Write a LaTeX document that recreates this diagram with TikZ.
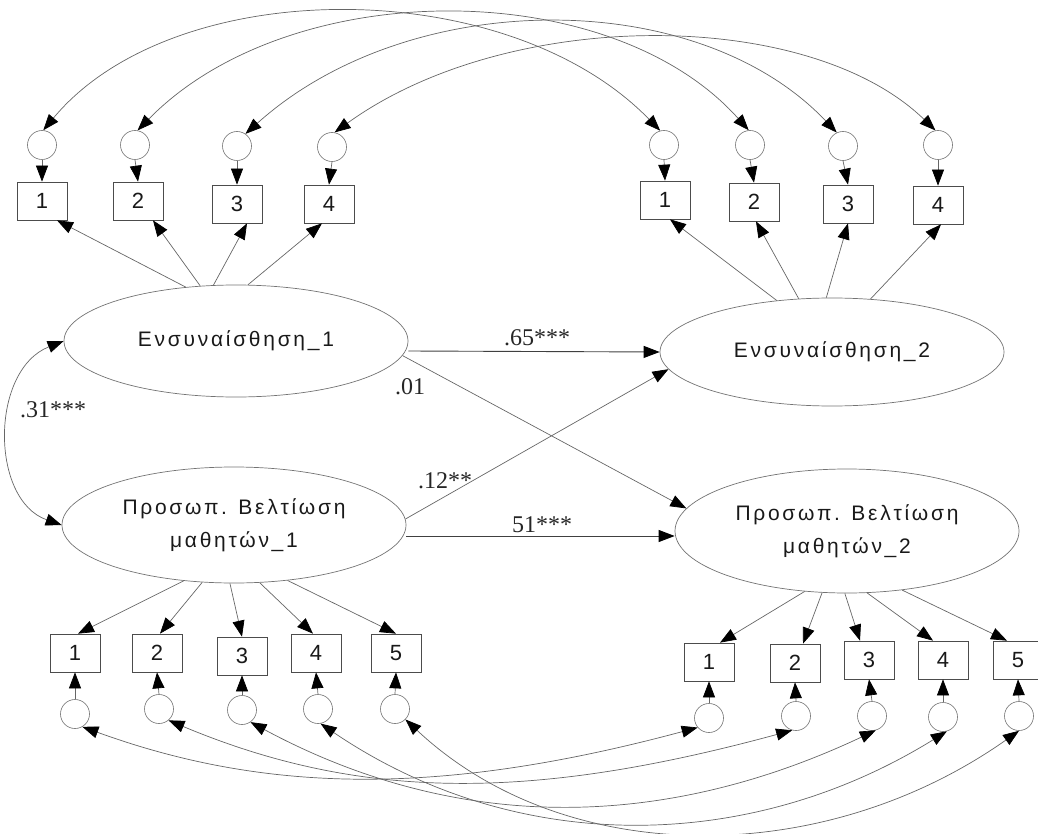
\documentclass[tikz,border=0pt]{standalone}
\usepackage{fontspec}
\setmainfont{Liberation Serif}
\newfontfamily\grk[LetterSpace=13]{Liberation Sans}
\newfontfamily\dig{Liberation Sans}
\usetikzlibrary{arrows.meta,shapes.geometric}
\begin{document}
\begin{tikzpicture}[x=1pt,y=-1pt,
  lat/.style={ellipse, draw=black!55, line width=0.7pt, minimum width=344pt, inner sep=0pt,
    font=\grk\fontsize{21}{33}\selectfont, text=black!90, align=center},
  obs/.style={rectangle, draw=black!70, line width=0.7pt, minimum width=50pt, minimum height=38pt,
    inner sep=0pt, font=\dig\fontsize{22}{24}\selectfont, text=black!90},
  err/.style={circle, draw=black!55, line width=0.6pt, minimum size=29pt, inner sep=0pt},
  coef/.style={font=\fontsize{24}{26}\selectfont, text=black!85, inner sep=0pt},
  tip/.style={-{Triangle[length=16pt,width=12pt,color=black]}},
  arr/.style={draw=black!60, line width=0.7pt, tip},
  harr/.style={draw=black!75, line width=0.9pt, tip},
  dbl/.style={draw=black!60, line width=0.7pt,
    {Triangle[length=16pt,width=12pt,color=black]}-{Triangle[length=16pt,width=12pt,color=black]}}
]
\useasboundingbox (0,0) rectangle (1038,834);

% latent variables
\node[lat, minimum height=112pt] (E1) at (236,341) {Ενσυναίσθηση\_1};
\node[lat, minimum height=108pt] (E2) at (832,352) {Ενσυναίσθηση\_2};
\node[lat, minimum height=116pt] (P1) at (234,525) {Προσωπ. Βελτίωση\\μαθητών\_1};
\node[lat, minimum height=124pt] (P2) at (847,531) {Προσωπ. Βελτίωση\\μαθητών\_2};

% top-left indicators
\node[err] (tl1) at (42,145) {};
\node[err] (tl2) at (135,145) {};
\node[err] (tl3) at (237,146) {};
\node[err] (tl4) at (332,147) {};
\node[obs] (a1) at (42,201) {1};
\node[obs] (a2) at (138,201) {2};
\node[obs] (a3) at (237,204) {3};
\node[obs] (a4) at (329,204) {4};

% top-right indicators
\node[err] (tr1) at (664,145) {};
\node[err] (tr2) at (750,145) {};
\node[err] (tr3) at (843,146) {};
\node[err] (tr4) at (938,145) {};
\node[obs] (b1) at (665,200) {1};
\node[obs] (b2) at (754,202) {2};
\node[obs] (b3) at (848,204) {3};
\node[obs] (b4) at (938,205) {4};

% bottom-left indicators
\node[obs] (c1) at (75,653) {1};
\node[obs] (c2) at (157,653) {2};
\node[obs] (c3) at (242,656) {3};
\node[obs] (c4) at (316,653) {4};
\node[obs] (c5) at (396,653) {5};
\node[err] (bl1) at (75,714) {};
\node[err] (bl2) at (159,709) {};
\node[err] (bl3) at (242,710) {};
\node[err] (bl4) at (318,709) {};
\node[err] (bl5) at (395,709) {};

% bottom-right indicators
\node[obs] (d1) at (709,662) {1};
\node[obs] (d2) at (795,663) {2};
\node[obs] (d3) at (869,660) {3};
\node[obs] (d4) at (943,660) {4};
\node[obs] (d5) at (1018,660) {5};
\node[err] (br1) at (709,718) {};
\node[err] (br2) at (796,716) {};
\node[err] (br3) at (872,716) {};
\node[err] (br4) at (943,717) {};
\node[err] (br5) at (1019,716) {};

% coefficient labels
\node[coef] (l65) at (537,338) {.65***};
\node[coef] (l01) at (410,387) {.01};
\node[coef] (l31) at (53,410) {.31***};
\node[coef] (l12) at (445,481) {.12**};
\node[coef] (l51) at (542,525) {51***};

% loadings
\draw[arr] (E1.133.6) -- ([xshift=15pt]a1.south);
\draw[arr] (E1.123.4) -- ([xshift=15pt]a2.south);
\draw[arr] (E1.112.5) -- ([xshift=10pt]a3.south);
\draw[arr] (E1.78.9) -- ([xshift=-7pt]a4.south);

\draw[arr] (E2.137.6) -- ([xshift=5pt]b1.south);
\draw[arr] (E2.122.7) -- ([xshift=2pt]b2.south);
\draw[arr] (E2.96.3) -- (b3.south);
\draw[arr] (E2.54.9) -- ([xshift=3pt]b4.south);

\draw[arr] (P1.228.6) -- ([xshift=3pt]c1.north);
\draw[arr] (P1.241.5) -- ([xshift=3pt]c2.north);
\draw[arr] (P1.266) -- (c3.north);
\draw[arr] (P1.294.4) -- ([xshift=-3pt]c4.north);
\draw[arr] (P1.314.4) -- (c5.north);

\draw[arr] (P2.235) -- ([xshift=11pt]d1.north);
\draw[arr] (P2.248.7) -- ([xshift=8pt]d2.north);
\draw[arr] (P2.268.2) -- ([xshift=-9pt]d3.north);
\draw[arr] (P2.288.9) -- ([xshift=-10pt]d4.north);
\draw[arr] (P2.313.1) -- ([xshift=-11pt]d5.north);

% error terms to indicators
\foreach \e/\o in {tl1/a1,tl2/a2,tl3/a3,tl4/a4,tr1/b1,tr2/b2,tr3/b3,tr4/b4}
  \draw[arr] (\e.south) -- (\o.north);
\foreach \e/\o in {bl1/c1,bl2/c2,bl3/c3,bl4/c4,bl5/c5,br1/d1,br2/d2,br3/d3,br4/d4,br5/d5}
  \draw[arr] (\e.north) -- (\o.south);

% structural paths
\draw[harr] ([yshift=-10pt]E1.east) -- (E2.west);
\draw[arr] (E1.-5) -- (P2.172);
\draw[arr] (P1.2) -- (E2.186);
\draw[harr] ([yshift=-11pt]P1.east) -- ([yshift=-5pt]P2.west);
\draw[dbl] (E1.west) .. controls (-10,370) and (-10,500) .. (P1.west);

% error covariances, top
\draw[dbl] (tl1.85) .. controls (174,-27) and (507,-27) .. (tr1.105);
\draw[dbl] (tl2.80) .. controls (290,-25) and (610,-25) .. (tr2.95);
\draw[dbl] (tl3.55) .. controls (410,-14) and (698,-14) .. (tr3.115);
\draw[dbl] (tl4.80) .. controls (508,7) and (808,7) .. (tr4.100);

% error covariances, bottom
\draw[dbl] (bl1.-60) .. controls (270,795) and (446,795) .. (br1.-140);
\draw[dbl] (bl2.-50) .. controls (361,801) and (532,801) .. (br2.-105);
\draw[dbl] (bl3.-55) .. controls (455,832) and (660,832) .. (br3.-75);
\draw[dbl] (bl4.-80) .. controls (514,855) and (747,855) .. (br4.-75);
\draw[dbl] (bl5.-45) .. controls (565,869) and (823,869) .. (br5.-90);
\end{tikzpicture}
\end{document}
